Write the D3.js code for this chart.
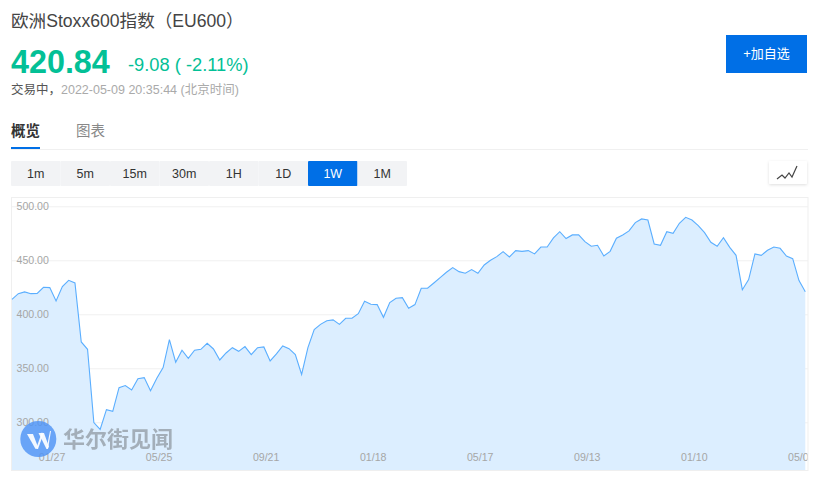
<!DOCTYPE html>
<html>
<head>
<meta charset="utf-8">
<title>欧洲Stoxx600指数</title>
<script src="https://cdn.jsdelivr.net/npm/d3@7"></script>
<style>
body { margin: 0; background: #fff; overflow: hidden; }
text { font-family: "Liberation Sans", "Noto Sans CJK SC", sans-serif; }
</style>
</head>
<body>
<script>
// weekly closes, last point is 2022-05-09
var closes = [
413.9,419.1,420.7,419.1,419.4,425,424.7,412.3,425.6,431.5,429,374.4,367.6,299.7,293.5,311.7,310.2,332.1,334,330,
340.4,341.4,329.3,340.7,350.6,376.5,355.6,366.7,359.3,366.7,367.6,373.1,367.9,357.7,364.2,369.1,365.7,370.1,362.7,369.1,
369.8,356.8,363.3,370.7,368.2,362.7,344.4,369.1,385.8,390.7,394.1,394.8,390.7,396.3,396.3,400.6,412,409.3,409,397.2,
410.8,414.8,415.4,405.6,409,424.1,424.1,429,434,438.9,443.2,439.5,438,441.4,438,445.7,450,453.4,458,453.1,
459,458.3,459,455.9,462.3,462.3,470.7,476.5,470.1,473.5,473.5,467.3,463,463.9,454,458.3,470.4,473.5,477.2,484.9,
488.3,487.3,465.1,463.9,476.5,475,484.3,489.8,487.3,482.1,475.6,466.7,463,471,462,454.6,422.8,432.1,455.9,454.6,
459.3,462.3,461.1,454,451.5,431.2,420.84
];
var xLabels = ["2020-01-27","2020-05-25","2020-09-21","2021-01-18","2021-05-17","2021-09-13","2022-01-10","2022-05-09"];
var yLabels = [300,350,400,450,500];
var periods = ["1m","5m","15m","30m","1H","1D","1W","1M"];
var activePeriod = "1W";
var lastDate = new Date(2022,4,9);

var blue = "#006fe6", green = "#03c096";
var svg = d3.select("body").append("svg").attr("width",821).attr("height",478);

//cabecera
function texto(x,y,s,size,color,weight){
	return svg.append("text").attr("x",x).attr("y",y).attr("font-size",size)
		.attr("fill",color).attr("font-weight",weight||"normal").text(s);
}
texto(11,27,"欧洲Stoxx600指数（EU600）",17.6,"#444");
texto(11,73,"420.84",32.3,green,"bold");
texto(128,71,"-9.08 ( -2.11%)",18.3,green);
texto(11,94,"交易中，",12.5,"#555");
texto(61,94,"2022-05-09 20:35:44 (北京时间)",12.5,"#aaa");
texto(11,136,"概览",14.5,"#333","bold");
texto(76,136,"图表",14.5,"#888");
svg.append("line").attr("x1",11).attr("x2",808).attr("y1",149.5).attr("y2",149.5).attr("stroke","#f0f0f0");
svg.append("rect").attr("x",11).attr("y",147).attr("width",29).attr("height",2).attr("fill",blue);

svg.append("rect").attr("x",726).attr("y",35).attr("width",81).attr("height",38).attr("fill",blue);
texto(766.5,58,"+加自选",13,"#fff").attr("text-anchor","middle");

//botones de periodo
var bx = d3.scaleBand().domain(periods).range([11,407]);
svg.selectAll(".periodo").data(periods).enter().append("rect").attr("class","periodo")
	.attr("x",function(d){return bx(d);}).attr("y",161).attr("width",bx.bandwidth()).attr("height",25)
	.attr("rx",1).attr("fill",function(d){return d==activePeriod?blue:"#f2f3f5";});
svg.selectAll(".periodoT").data(periods).enter().append("text").attr("class","periodoT")
	.attr("x",function(d){return bx(d)+bx.bandwidth()/2;}).attr("y",178)
	.attr("text-anchor","middle").attr("font-size",12.5)
	.attr("fill",function(d){return d==activePeriod?"#fff":"#333";}).text(function(d){return d;});

//boton del icono
var defs = svg.append("defs");
var sombra = defs.append("filter").attr("id","sombra").attr("x","-20%").attr("y","-20%").attr("width","140%").attr("height","150%");
sombra.append("feDropShadow").attr("dx",0).attr("dy",1).attr("stdDeviation",1.5).attr("flood-color","#000").attr("flood-opacity",0.13);
svg.append("rect").attr("x",769).attr("y",161).attr("width",38).attr("height",23).attr("rx",1).attr("fill","#fff").attr("filter","url(#sombra)");
svg.append("path").attr("d","M777 179L782 175L785 178L789 173L792 177L797 166")
	.attr("fill","none").attr("stroke","#444").attr("stroke-width",1.2);

//grafica
var margin = {left:12,right:805.3,top:197,bottom:470};
var n = closes.length;
var x = d3.scaleTime().domain([d3.timeWeek.offset(lastDate,-(n-1)),lastDate]).range([margin.left,margin.right]);
var y = d3.scaleLinear().domain([300,500]).range([422.3,206.3]);
var datos = closes.map(function(v,i){ return {fecha:d3.timeWeek.offset(lastDate,i-(n-1)),valor:v}; });

defs.append("clipPath").attr("id","marco").append("rect").attr("x",12).attr("y",197).attr("width",795.5).attr("height",273);

svg.append("rect").attr("x",11.5).attr("y",197.5).attr("width",796.5).attr("height",273)
	.attr("fill","#fff").attr("stroke","#efefef");

var yGrid = d3.axisRight(y).tickValues(yLabels).tickSize(796).tickFormat("");
var g = svg.append("g").attr("transform","translate(12,0)").call(yGrid);
g.select(".domain").remove();
g.selectAll("line").attr("stroke","#f0f0f0");

var area = d3.area().x(function(d){return x(d.fecha);}).y0(margin.bottom).y1(function(d){return y(d.valor);});
var linea = d3.line().x(function(d){return x(d.fecha);}).y(function(d){return y(d.valor);});
svg.append("path").datum(datos).attr("d",area).attr("fill","#dceeff");
svg.append("path").datum(datos).attr("d",linea).attr("fill","none").attr("stroke","#5aaeff").attr("stroke-width",1.1);

//ejes
var yAxis = d3.axisRight(y).tickValues(yLabels).tickSize(0).tickPadding(0).tickFormat(d3.format(".2f"));
var gy = svg.append("g").attr("transform","translate(16.5,0)").call(yAxis);
gy.select(".domain").remove();
gy.selectAll("text").attr("font-size",10.6).attr("fill","#a6a6a6").attr("font-family",null);

var parse = d3.timeParse("%Y-%m-%d");
var xAxis = d3.axisBottom(x).tickValues(xLabels.map(parse)).tickSize(0).tickPadding(0).tickFormat(d3.timeFormat("%m/%d"));
var clip = svg.append("g").attr("clip-path","url(#marco)");
var gx = clip.append("g").attr("transform","translate(-4.5,453)").call(xAxis);
gx.select(".domain").remove();
gx.selectAll("text").attr("font-size",10.6).attr("fill","#a6a6a6").attr("font-family",null);

//marca de agua, va encima de los ejes
svg.append("circle").attr("cx",38.3).attr("cy",439).attr("r",18).attr("fill","#4f94f5").attr("opacity",0.82);
["M27 434L33 434L38 447L35.5 449Z","M36 449L42 432L43 435L38 449Z","M38.5 433L44 433L49 447L46.5 449Z","M46.5 449L50 431L51 431L48 449Z"].forEach(function(p){
	svg.append("path").attr("d",p).attr("fill","#fff").attr("opacity",0.92);
});
texto(63,447,"华尔街见闻",22,"#9aa4ad","bold").attr("opacity",0.85);
</script>
</body>
</html>
